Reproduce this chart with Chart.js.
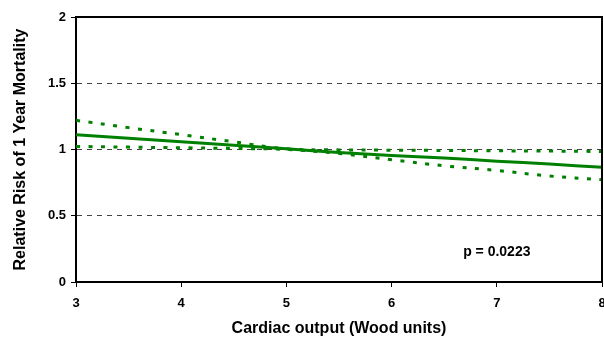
<!DOCTYPE html>
<html>
<head>
<meta charset="utf-8">
<script src="https://cdn.jsdelivr.net/npm/chart.js@4/dist/chart.umd.min.js"></script>
<style>
  html, body { margin: 0; padding: 0; background: #fff; }
  #wrap { width: 604px; height: 337px; }
</style>
</head>
<body>
<div id="wrap"><canvas id="myChart" width="604" height="337"></canvas></div>
<script>
// cardiac output (Wood units) and relative risk of 1-year mortality
const output = [3, 3.5, 4, 4.5, 5, 5.5, 6, 6.5, 7, 7.5, 8];
const riskFit = [1.111, 1.085, 1.059, 1.032, 1.005, 0.978, 0.955, 0.935, 0.912, 0.89, 0.866];
const riskUpper = [1.22, 1.165, 1.112, 1.058, 1.005, 0.997, 0.995, 0.993, 0.99, 0.988, 0.985];
const riskLower = [1.023, 1.018, 1.013, 1.008, 1.0, 0.97, 0.923, 0.877, 0.842, 0.8, 0.772];

const xTicks = [3, 4, 5, 6, 7, 8];
const yTicks = [0, 0.5, 1, 1.5, 2];

const pText = 'p = 0.0223';
const pAt = { x: 7, y: 0.225 };

const green = '#008000';
const fontFamily = '"Liberation Sans", Arial, sans-serif';

function points(ys) {
  return output.map((x, i) => ({ x: x, y: ys[i] }));
}

// top and right edges of the plot box, plus the p-value note
const plotExtras = {
  id: 'plotExtras',
  afterDraw(chart) {
    const { ctx, chartArea: a, scales } = chart;
    ctx.save();
    ctx.strokeStyle = '#000';
    ctx.lineWidth = 2;
    ctx.beginPath();
    ctx.moveTo(a.left, a.top);
    ctx.lineTo(a.right, a.top);
    ctx.lineTo(a.right, a.bottom);
    ctx.stroke();

    ctx.fillStyle = '#000';
    ctx.font = 'bold 14px ' + fontFamily;
    ctx.textAlign = 'center';
    ctx.textBaseline = 'middle';
    ctx.fillText(pText, scales.x.getPixelForValue(pAt.x), scales.y.getPixelForValue(pAt.y));
    ctx.restore();
  }
};

const ctx = document.getElementById('myChart');

new Chart(ctx, {
  type: 'line',
  data: {
    datasets: [
      {
        label: 'Relative risk',
        data: points(riskFit),
        borderColor: green,
        borderWidth: 3,
        tension: 0.4,
        pointRadius: 0,
      },
      {
        label: 'Upper 95% CI',
        data: points(riskUpper),
        borderColor: green,
        borderWidth: 3,
        borderDash: [4, 8.5],
        tension: 0.4,
        pointRadius: 0,
      },
      {
        label: 'Lower 95% CI',
        data: points(riskLower),
        borderColor: green,
        borderWidth: 3,
        borderDash: [4, 8.5],
        tension: 0.4,
        pointRadius: 0,
      },
    ],
  },
  options: {
    responsive: false,
    animation: false,
    layout: { padding: { left: 0, right: 2, top: 17, bottom: 0 } },
    plugins: {
      legend: { display: false },
      tooltip: { enabled: false },
    },
    scales: {
      x: {
        type: 'linear',
        min: 3,
        max: 8,
        afterBuildTicks: (s) => { s.ticks = xTicks.map((v) => ({ value: v })); },
        afterFit: (s) => { s.height = 55; s.paddingLeft = 0; s.paddingRight = 0; },
        grid: { drawOnChartArea: false, tickLength: 5, tickColor: '#000', tickWidth: 1 },
        border: { color: '#000', width: 2 },
        ticks: {
          color: '#000',
          padding: 9,
          maxRotation: 0,
          callback: (v) => String(v),
          font: { family: fontFamily, size: 13, weight: 'bold' },
        },
        title: {
          display: true,
          text: 'Cardiac output (Wood units)',
          color: '#000',
          padding: { top: 0, bottom: 0 },
          font: { family: fontFamily, size: 16, weight: 'bold', lineHeight: 1 },
        },
      },
      y: {
        min: 0,
        max: 2,
        afterBuildTicks: (s) => { s.ticks = yTicks.map((v) => ({ value: v })); },
        afterFit: (s) => { s.width = 76; s.paddingTop = 0; s.paddingBottom = 0; },
        grid: {
          color: (c) => (c.tick && (c.tick.value === 0 || c.tick.value === 2) ? 'rgba(0,0,0,0)' : '#444'),
          lineWidth: 1,
          tickLength: 5,
          tickColor: '#000',
          tickWidth: 1,
        },
        border: { color: '#000', width: 2, dash: [5, 5] },
        ticks: {
          color: '#000',
          padding: 5,
          callback: (v) => String(v),
          font: { family: fontFamily, size: 13, weight: 'bold' },
        },
        title: {
          display: true,
          text: 'Relative Risk of 1 Year Mortality',
          color: '#000',
          padding: { top: 11, bottom: 0 },
          font: { family: fontFamily, size: 16, weight: 'bold', lineHeight: 1.2 },
        },
      },
    },
  },
  plugins: [plotExtras],
});
</script>
</body>
</html>
